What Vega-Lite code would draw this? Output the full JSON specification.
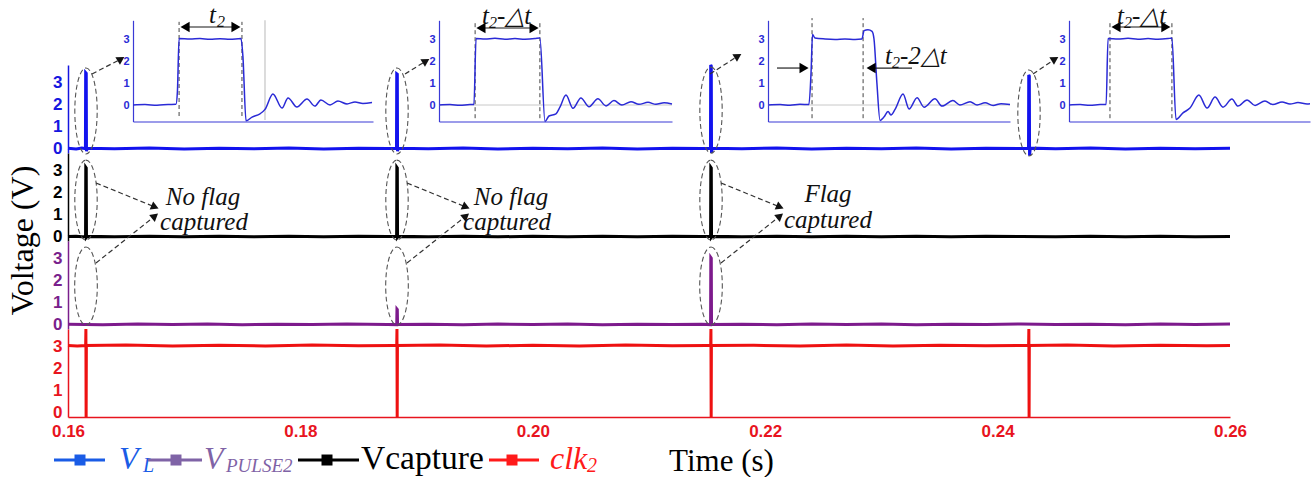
{
"$schema":"https://vega.github.io/schema/vega-lite/v6.json",
"width":1162,"height":417,
"autosize":{"type":"none"},
"padding":{"left":68,"top":0,"right":83,"bottom":60},
"background":"white",
"datasets":{
"traces":[
{"s":"VL","t":0.16,"v":0.02},{"s":"VL","t":0.1607,"v":-0.02},{"s":"VL","t":0.1612,"v":0.03},
{"s":"VL","t":0.1615,"v":0.0},{"s":"VL","t":0.16152,"v":3.45},{"s":"VL","t":0.16157,"v":3.42},{"s":"VL","t":0.16159,"v":-0.12},{"s":"VL","t":0.16165,"v":0.02},
{"s":"VL","t":0.164,"v":-0.01},{"s":"VL","t":0.167,"v":0.03},{"s":"VL","t":0.17,"v":-0.02},{"s":"VL","t":0.173,"v":0.02},{"s":"VL","t":0.176,"v":-0.01},{"s":"VL","t":0.179,"v":0.03},{"s":"VL","t":0.182,"v":-0.02},{"s":"VL","t":0.185,"v":0.02},{"s":"VL","t":0.1875,"v":0.0},
{"s":"VL","t":0.18827,"v":0.0},{"s":"VL","t":0.18829,"v":3.4},{"s":"VL","t":0.18834,"v":3.38},{"s":"VL","t":0.18836,"v":-0.12},{"s":"VL","t":0.18842,"v":0.02},
{"s":"VL","t":0.191,"v":-0.01},{"s":"VL","t":0.194,"v":0.03},{"s":"VL","t":0.197,"v":-0.02},{"s":"VL","t":0.2,"v":0.02},{"s":"VL","t":0.203,"v":-0.01},{"s":"VL","t":0.206,"v":0.03},{"s":"VL","t":0.209,"v":-0.02},{"s":"VL","t":0.212,"v":0.02},{"s":"VL","t":0.2145,"v":0.0},
{"s":"VL","t":0.21529,"v":0.0},{"s":"VL","t":0.21531,"v":3.8},{"s":"VL","t":0.21536,"v":3.75},{"s":"VL","t":0.21538,"v":-0.2},{"s":"VL","t":0.21544,"v":0.02},
{"s":"VL","t":0.218,"v":-0.01},{"s":"VL","t":0.221,"v":0.03},{"s":"VL","t":0.224,"v":-0.02},{"s":"VL","t":0.227,"v":0.02},{"s":"VL","t":0.23,"v":-0.01},{"s":"VL","t":0.233,"v":0.03},{"s":"VL","t":0.236,"v":-0.02},{"s":"VL","t":0.239,"v":0.02},{"s":"VL","t":0.242,"v":0.0},
{"s":"VL","t":0.24266,"v":0.0},{"s":"VL","t":0.24268,"v":3.35},{"s":"VL","t":0.24273,"v":3.3},{"s":"VL","t":0.24275,"v":-0.32},{"s":"VL","t":0.24281,"v":0.02},
{"s":"VL","t":0.245,"v":-0.01},{"s":"VL","t":0.248,"v":0.03},{"s":"VL","t":0.251,"v":-0.02},{"s":"VL","t":0.254,"v":0.02},{"s":"VL","t":0.257,"v":-0.01},{"s":"VL","t":0.26,"v":0.02},

{"s":"VC","t":0.16,"v":0.0},{"s":"VC","t":0.1607,"v":0.02},{"s":"VC","t":0.1612,"v":-0.01},
{"s":"VC","t":0.16151,"v":0.0},{"s":"VC","t":0.16153,"v":3.15},{"s":"VC","t":0.16157,"v":3.12},{"s":"VC","t":0.16159,"v":-0.03},{"s":"VC","t":0.16165,"v":0.01},
{"s":"VC","t":0.164,"v":-0.01},{"s":"VC","t":0.167,"v":0.02},{"s":"VC","t":0.17,"v":-0.01},{"s":"VC","t":0.173,"v":0.02},{"s":"VC","t":0.176,"v":-0.01},{"s":"VC","t":0.179,"v":0.02},{"s":"VC","t":0.182,"v":-0.01},{"s":"VC","t":0.185,"v":0.02},{"s":"VC","t":0.1875,"v":0.0},
{"s":"VC","t":0.18828,"v":0.0},{"s":"VC","t":0.1883,"v":3.15},{"s":"VC","t":0.18834,"v":3.12},{"s":"VC","t":0.18836,"v":-0.03},{"s":"VC","t":0.18842,"v":0.01},
{"s":"VC","t":0.191,"v":-0.01},{"s":"VC","t":0.194,"v":0.02},{"s":"VC","t":0.197,"v":-0.01},{"s":"VC","t":0.2,"v":0.02},{"s":"VC","t":0.203,"v":-0.01},{"s":"VC","t":0.206,"v":0.02},{"s":"VC","t":0.209,"v":-0.01},{"s":"VC","t":0.212,"v":0.02},{"s":"VC","t":0.2145,"v":0.0},
{"s":"VC","t":0.2153,"v":0.0},{"s":"VC","t":0.21532,"v":3.15},{"s":"VC","t":0.21536,"v":3.12},{"s":"VC","t":0.21538,"v":-0.03},{"s":"VC","t":0.21544,"v":0.01},
{"s":"VC","t":0.218,"v":-0.01},{"s":"VC","t":0.221,"v":0.02},{"s":"VC","t":0.224,"v":-0.01},{"s":"VC","t":0.227,"v":0.02},{"s":"VC","t":0.23,"v":-0.01},{"s":"VC","t":0.233,"v":0.02},{"s":"VC","t":0.236,"v":-0.01},{"s":"VC","t":0.239,"v":0.02},{"s":"VC","t":0.242,"v":0.0},{"s":"VC","t":0.245,"v":-0.01},{"s":"VC","t":0.248,"v":0.02},{"s":"VC","t":0.251,"v":-0.01},{"s":"VC","t":0.254,"v":0.02},{"s":"VC","t":0.257,"v":-0.01},{"s":"VC","t":0.26,"v":0.01},

{"s":"VP","t":0.16,"v":0.02},{"s":"VP","t":0.163,"v":-0.01},{"s":"VP","t":0.166,"v":0.03},{"s":"VP","t":0.169,"v":0.0},{"s":"VP","t":0.172,"v":0.03},{"s":"VP","t":0.175,"v":-0.01},{"s":"VP","t":0.178,"v":0.02},{"s":"VP","t":0.181,"v":0.0},{"s":"VP","t":0.184,"v":0.03},{"s":"VP","t":0.1875,"v":0.01},
{"s":"VP","t":0.18829,"v":0.0},{"s":"VP","t":0.18831,"v":0.7},{"s":"VP","t":0.18834,"v":0.68},{"s":"VP","t":0.18836,"v":0.0},
{"s":"VP","t":0.191,"v":0.02},{"s":"VP","t":0.194,"v":-0.01},{"s":"VP","t":0.197,"v":0.03},{"s":"VP","t":0.2,"v":0.0},{"s":"VP","t":0.203,"v":0.03},{"s":"VP","t":0.206,"v":-0.01},{"s":"VP","t":0.209,"v":0.02},{"s":"VP","t":0.212,"v":0.0},{"s":"VP","t":0.2145,"v":0.02},
{"s":"VP","t":0.2153,"v":0.0},{"s":"VP","t":0.21532,"v":3.05},{"s":"VP","t":0.21536,"v":3.02},{"s":"VP","t":0.21538,"v":0.0},
{"s":"VP","t":0.218,"v":0.02},{"s":"VP","t":0.221,"v":-0.01},{"s":"VP","t":0.224,"v":0.03},{"s":"VP","t":0.227,"v":0.0},{"s":"VP","t":0.23,"v":0.03},{"s":"VP","t":0.233,"v":-0.01},{"s":"VP","t":0.236,"v":0.02},{"s":"VP","t":0.239,"v":0.0},{"s":"VP","t":0.242,"v":0.03},{"s":"VP","t":0.245,"v":0.0},{"s":"VP","t":0.248,"v":0.02},{"s":"VP","t":0.251,"v":-0.01},{"s":"VP","t":0.254,"v":0.03},{"s":"VP","t":0.257,"v":0.01},{"s":"VP","t":0.26,"v":0.03},

{"s":"CK","t":0.16,"v":3.05},{"s":"CK","t":0.1608,"v":3.03},{"s":"CK","t":0.16152,"v":3.05},{"s":"CK","t":0.16154,"v":3.8},{"s":"CK","t":0.16156,"v":-0.2},{"s":"CK","t":0.16158,"v":3.05},
{"s":"CK","t":0.165,"v":3.07},{"s":"CK","t":0.169,"v":3.03},{"s":"CK","t":0.173,"v":3.06},{"s":"CK","t":0.177,"v":3.03},{"s":"CK","t":0.181,"v":3.07},{"s":"CK","t":0.185,"v":3.04},{"s":"CK","t":0.188,"v":3.05},
{"s":"CK","t":0.18829,"v":3.05},{"s":"CK","t":0.18831,"v":3.8},{"s":"CK","t":0.18833,"v":-0.2},{"s":"CK","t":0.18835,"v":3.05},
{"s":"CK","t":0.192,"v":3.07},{"s":"CK","t":0.196,"v":3.03},{"s":"CK","t":0.2,"v":3.06},{"s":"CK","t":0.204,"v":3.03},{"s":"CK","t":0.208,"v":3.07},{"s":"CK","t":0.212,"v":3.04},{"s":"CK","t":0.215,"v":3.05},
{"s":"CK","t":0.21531,"v":3.05},{"s":"CK","t":0.21533,"v":3.8},{"s":"CK","t":0.21535,"v":-0.2},{"s":"CK","t":0.21537,"v":3.05},
{"s":"CK","t":0.219,"v":3.06},{"s":"CK","t":0.223,"v":3.03},{"s":"CK","t":0.227,"v":3.07},{"s":"CK","t":0.231,"v":3.03},{"s":"CK","t":0.235,"v":3.06},{"s":"CK","t":0.239,"v":3.04},{"s":"CK","t":0.2426,"v":3.05},
{"s":"CK","t":0.24267,"v":3.05},{"s":"CK","t":0.24269,"v":3.8},{"s":"CK","t":0.24271,"v":-0.2},{"s":"CK","t":0.24273,"v":3.05},
{"s":"CK","t":0.246,"v":3.07},{"s":"CK","t":0.25,"v":3.03},{"s":"CK","t":0.254,"v":3.06},{"s":"CK","t":0.258,"v":3.04},{"s":"CK","t":0.26,"v":3.05}
],
"ellipses":[
{"s":"VL","t":0.161549,"v":1.71},{"s":"VL","t":0.188313,"v":1.71},{"s":"VL","t":0.215336,"v":1.75},{"s":"VL","t":0.242702,"v":1.62},
{"s":"VC","t":0.161549,"v":1.66},{"s":"VC","t":0.188313,"v":1.66},{"s":"VC","t":0.215336,"v":1.66},
{"s":"VP","t":0.161549,"v":1.755},{"s":"VP","t":0.188313,"v":1.755},{"s":"VP","t":0.215336,"v":1.755}
],
"arrows":[
{"s":"VL","t1":0.162065,"v1":3.391,"t2":0.164561,"v2":4.073},
{"s":"VL","t1":0.189002,"v1":3.391,"t2":0.190809,"v2":3.982},
{"s":"VL","t1":0.21525,"v1":3.391,"t2":0.21766,"v2":4.209},
{"s":"VL","t1":0.243046,"v1":3.391,"t2":0.24494,"v2":4.073},
{"s":"VC","t1":0.16241,"v1":2.436,"t2":0.167487,"v2":1.345},
{"s":"VC","t1":0.189174,"v1":2.436,"t2":0.194251,"v2":1.345},
{"s":"VC","t1":0.216196,"v1":2.436,"t2":0.221274,"v2":1.345},
{"s":"VP","t1":0.16241,"v1":2.8,"t2":0.167487,"v2":4.936},
{"s":"VP","t1":0.189174,"v1":2.8,"t2":0.194251,"v2":4.936},
{"s":"VP","t1":0.216196,"v1":2.8,"t2":0.221274,"v2":4.936}
],
"notes":[
{"t":0.171618,"v":1.436,"label":"No flag"},{"t":0.171704,"v":0.3,"label":"captured"},
{"t":0.198124,"v":1.436,"label":"No flag"},{"t":0.19778,"v":0.3,"label":"captured"},
{"t":0.225404,"v":1.57,"label":"Flag"},{"t":0.225404,"v":0.39,"label":"captured"}
],
"ins":[
{"k":1,"u":0,"v":0.0},{"k":1,"u":5,"v":0.02},{"k":1,"u":10,"v":-0.01},{"k":1,"u":14.6,"v":0.02},{"k":1,"u":17.9,"v":0.03},{"k":1,"u":18.5,"v":0.6},{"k":1,"u":19.2,"v":3.02},{"k":1,"u":23.75,"v":3.0},{"k":1,"u":27.9,"v":3.02},{"k":1,"u":32.1,"v":2.99},{"k":1,"u":36.25,"v":3.01},{"k":1,"u":40.4,"v":2.99},{"k":1,"u":45,"v":3.02},{"k":1,"u":45.8,"v":2.2},{"k":1,"u":47.1,"v":-0.72},{"k":1,"u":49.6,"v":-0.55},{"k":1,"u":52.9,"v":-0.4},{"k":1,"u":55,"v":-0.2},{"k":1,"u":58.3,"v":0.5},{"k":1,"u":62.1,"v":-0.14},{"k":1,"u":64.6,"v":0.32},{"k":1,"u":68.3,"v":-0.09},{"k":1,"u":72.5,"v":0.27},{"k":1,"u":75.8,"v":-0.05},{"k":1,"u":78.3,"v":0.23},{"k":1,"u":82.1,"v":0.0},{"k":1,"u":85.4,"v":0.18},{"k":1,"u":89.2,"v":0.05},{"k":1,"u":92.5,"v":0.14},{"k":1,"u":95.8,"v":0.07},{"k":1,"u":99.6,"v":0.11},
{"k":2,"u":0,"v":0.0},{"k":2,"u":4.7,"v":0.02},{"k":2,"u":9.0,"v":-0.01},{"k":2,"u":13.3,"v":0.02},{"k":2,"u":15.0,"v":0.02},{"k":2,"u":15.9,"v":3.02},{"k":2,"u":19.7,"v":3.0},{"k":2,"u":24.0,"v":3.03},{"k":2,"u":28.3,"v":2.99},{"k":2,"u":32.6,"v":3.02},{"k":2,"u":36.9,"v":2.99},{"k":2,"u":41.2,"v":3.02},{"k":2,"u":43.3,"v":3.05},{"k":2,"u":45.5,"v":-0.75},{"k":2,"u":47.2,"v":-0.5},{"k":2,"u":50.2,"v":-0.4},{"k":2,"u":51.9,"v":-0.1},{"k":2,"u":54.5,"v":0.45},{"k":2,"u":57.5,"v":-0.15},{"k":2,"u":60.9,"v":0.32},{"k":2,"u":64.4,"v":-0.08},{"k":2,"u":68.2,"v":0.28},{"k":2,"u":71.7,"v":-0.04},{"k":2,"u":75.1,"v":0.2},{"k":2,"u":78.5,"v":0.0},{"k":2,"u":82.4,"v":0.15},{"k":2,"u":85.8,"v":0.03},{"k":2,"u":89.7,"v":0.12},{"k":2,"u":93.1,"v":0.03},{"k":2,"u":96.6,"v":0.1},{"k":2,"u":100,"v":0.05},
{"k":3,"u":0,"v":0.0},{"k":3,"u":5.0,"v":0.02},{"k":3,"u":9.1,"v":-0.01},{"k":3,"u":13.2,"v":0.03},{"k":3,"u":16.9,"v":0.02},{"k":3,"u":17.8,"v":1.5},{"k":3,"u":18.4,"v":3.2},{"k":3,"u":19.4,"v":3.05},{"k":3,"u":23.6,"v":3.0},{"k":3,"u":27.7,"v":2.98},{"k":3,"u":31.8,"v":3.0},{"k":3,"u":36.0,"v":2.98},{"k":3,"u":38.8,"v":3.0},{"k":3,"u":39.7,"v":3.38},{"k":3,"u":41.3,"v":3.42},{"k":3,"u":43.0,"v":3.35},{"k":3,"u":43.8,"v":3.0},{"k":3,"u":45.0,"v":1.0},{"k":3,"u":46.3,"v":-0.7},{"k":3,"u":47.9,"v":-0.55},{"k":3,"u":49.6,"v":-0.3},{"k":3,"u":50.8,"v":-0.45},{"k":3,"u":52.5,"v":-0.2},{"k":3,"u":55.8,"v":0.5},{"k":3,"u":58.3,"v":-0.18},{"k":3,"u":61.6,"v":0.33},{"k":3,"u":64.5,"v":-0.1},{"k":3,"u":69.0,"v":0.28},{"k":3,"u":71.9,"v":-0.05},{"k":3,"u":76.4,"v":0.2},{"k":3,"u":79.3,"v":0.0},{"k":3,"u":83.5,"v":0.15},{"k":3,"u":86.4,"v":0.0},{"k":3,"u":89.7,"v":0.1},{"k":3,"u":93.0,"v":-0.02},{"k":3,"u":96.3,"v":0.06},{"k":3,"u":100,"v":0.02},
{"k":4,"u":0,"v":0.0},{"k":4,"u":4.6,"v":0.02},{"k":4,"u":8.7,"v":-0.01},{"k":4,"u":12.9,"v":0.02},{"k":4,"u":15.4,"v":0.02},{"k":4,"u":16.2,"v":3.02},{"k":4,"u":20.3,"v":3.0},{"k":4,"u":24.5,"v":3.03},{"k":4,"u":28.6,"v":2.99},{"k":4,"u":32.8,"v":3.02},{"k":4,"u":36.9,"v":2.99},{"k":4,"u":41.1,"v":3.02},{"k":4,"u":42.7,"v":3.04},{"k":4,"u":44.4,"v":-0.66},{"k":4,"u":47.3,"v":-0.36},{"k":4,"u":50.2,"v":-0.14},{"k":4,"u":53.9,"v":0.45},{"k":4,"u":57.3,"v":-0.14},{"k":4,"u":60.6,"v":0.36},{"k":4,"u":63.9,"v":-0.1},{"k":4,"u":67.6,"v":0.27},{"k":4,"u":70.1,"v":-0.05},{"k":4,"u":73.9,"v":0.23},{"k":4,"u":77.2,"v":-0.02},{"k":4,"u":81.3,"v":0.18},{"k":4,"u":84.6,"v":0.02},{"k":4,"u":88.4,"v":0.14},{"k":4,"u":91.7,"v":0.04},{"k":4,"u":95.0,"v":0.11},{"k":4,"u":98.8,"v":0.05},{"k":4,"u":100,"v":0.06}
],
"idash":[{"k":1,"u":19.2},{"k":1,"u":45.4},{"k":2,"u":15.5},{"k":2,"u":43.3},{"k":3,"u":18.2},{"k":3,"u":39.3},{"k":4,"u":17.0},{"k":4,"u":42.7}],
"ishaft":[{"k":1,"u1":21.7,"u2":42.9,"v":3.545},{"k":2,"u1":18.0,"u2":40.8,"v":3.5},{"k":3,"u1":3.7,"u2":14.9,"v":1.68},{"k":3,"u1":59.5,"u2":42.6,"v":1.68},{"k":4,"u1":19.5,"u2":40.2,"v":3.545}],
"ihead":[{"k":1,"u":21.7,"v":3.545,"d":"l"},{"k":1,"u":42.9,"v":3.545,"d":"r"},{"k":2,"u":18.0,"v":3.5,"d":"l"},{"k":2,"u":40.8,"v":3.5,"d":"r"},{"k":3,"u":14.9,"v":1.68,"d":"r"},{"k":3,"u":42.6,"v":1.68,"d":"l"},{"k":4,"u":19.5,"v":3.545,"d":"l"},{"k":4,"u":40.2,"v":3.545,"d":"r"}],
"ilabel":[{"k":1,"u":31.7,"v":3.73,"text":"t"},{"k":2,"u":18.5,"v":3.68,"text":"t"},{"k":2,"u":24.9,"v":3.68,"text":"-△t"},{"k":3,"u":48.3,"v":1.86,"text":"t"},{"k":3,"u":54.5,"v":1.86,"text":"-2△t"},{"k":4,"u":19.9,"v":3.68,"text":"t"},{"k":4,"u":26.1,"v":3.68,"text":"-△t"}],
"isub":[{"k":1,"u":35,"v":3.55,"text":"2"},{"k":2,"u":21.5,"v":3.5,"text":"2"},{"k":3,"u":51.2,"v":1.68,"text":"2"},{"k":4,"u":22.8,"v":3.5,"text":"2"}]
},
"layer":[
{
"layer":[
{"layer":[
{"data":{"name":"traces"},"transform":[{"filter":"datum.s==='VL'"}],"mark":{"type":"line","color":"#1212ee","strokeWidth":3},
"encoding":{"x":{"field":"t","type":"quantitative","scale":{"domain":[0.16,0.26],"nice":false,"zero":false}},
"y":{"field":"v","type":"quantitative","scale":{"domain":[-0.2,3.8],"range":[153,65],"nice":false,"zero":false},"axis":{"orient":"left","values":[0,1,2,3],"format":"d","title":null,"labelColor":"#1515e0","domainColor":"#1515e0","domainWidth":1.5,"labelFontSize":17,"labelPadding":6}}}},
{"data":{"name":"ellipses"},"transform":[{"filter":"datum.s==='VL'"}],"mark":{"type":"point","shape":"M0,-1A0.26,1,0,1,1,0,1A0.26,1,0,1,1,0,-1Z","size":7400,"filled":false,"stroke":"#555","strokeWidth":1.1,"strokeDash":[5,3],"opacity":1},
"encoding":{"x":{"field":"t","type":"quantitative"},"y":{"field":"v","type":"quantitative"}}},
{"data":{"name":"arrows"},"transform":[{"filter":"datum.s==='VL'"}],"mark":{"type":"rule","color":"#333","strokeWidth":1.2,"strokeDash":[5,3]},
"encoding":{"x":{"field":"t1","type":"quantitative"},"x2":{"field":"t2"},"y":{"field":"v1","type":"quantitative"},"y2":{"field":"v2"}}},
{"data":{"name":"arrows"},"transform":[{"filter":"datum.s==='VL'"}],"mark":{"type":"point","shape":"triangle-right","angle":-31,"filled":true,"color":"#111","size":80,"opacity":1},
"encoding":{"x":{"field":"t2","type":"quantitative"},"y":{"field":"v2","type":"quantitative"}}}
]},
{"layer":[
{"data":{"name":"traces"},"transform":[{"filter":"datum.s==='VC'"}],"mark":{"type":"line","color":"#000","strokeWidth":3},
"encoding":{"x":{"field":"t","type":"quantitative","scale":{"domain":[0.16,0.26],"nice":false,"zero":false}},
"y":{"field":"v","type":"quantitative","scale":{"domain":[-0.2,3.8],"range":[241,153],"nice":false,"zero":false},"axis":{"orient":"left","values":[0,1,2,3],"format":"d","labelColor":"#000","domainColor":"#000","domainWidth":1.5,"labelFontSize":17,"labelPadding":6,"title":"Voltage (V)","titleFontSize":32,"titleX":-46,"titleY":240,"titleAlign":"center","titleBaseline":"middle","titleAngle":-90}}}},
{"data":{"name":"ellipses"},"transform":[{"filter":"datum.s==='VC'"}],"mark":{"type":"point","shape":"M0,-1A0.28,1,0,1,1,0,1A0.28,1,0,1,1,0,-1Z","size":6400,"filled":false,"stroke":"#555","strokeWidth":1.1,"strokeDash":[5,3],"opacity":1},
"encoding":{"x":{"field":"t","type":"quantitative"},"y":{"field":"v","type":"quantitative"}}},
{"data":{"name":"arrows"},"transform":[{"filter":"datum.s==='VC'"}],"mark":{"type":"rule","color":"#333","strokeWidth":1.2,"strokeDash":[5,3]},
"encoding":{"x":{"field":"t1","type":"quantitative"},"x2":{"field":"t2"},"y":{"field":"v1","type":"quantitative"},"y2":{"field":"v2"}}},
{"data":{"name":"arrows"},"transform":[{"filter":"datum.s==='VC'"}],"mark":{"type":"point","shape":"triangle-right","angle":23,"filled":true,"color":"#111","size":80,"opacity":1},
"encoding":{"x":{"field":"t2","type":"quantitative"},"y":{"field":"v2","type":"quantitative"}}},
{"data":{"name":"notes"},"mark":{"type":"text","font":"Liberation Serif","fontStyle":"italic","fontSize":25,"color":"#111","align":"center","baseline":"alphabetic"},
"encoding":{"x":{"field":"t","type":"quantitative"},"y":{"field":"v","type":"quantitative"},"text":{"field":"label"}}}
]},
{"layer":[
{"data":{"name":"traces"},"transform":[{"filter":"datum.s==='VP'"}],"mark":{"type":"line","color":"#7d1a8c","strokeWidth":3},
"encoding":{"x":{"field":"t","type":"quantitative","scale":{"domain":[0.16,0.26],"nice":false,"zero":false}},
"y":{"field":"v","type":"quantitative","scale":{"domain":[-0.2,3.8],"range":[329,241],"nice":false,"zero":false},"axis":{"orient":"left","values":[0,1,2,3],"format":"d","title":null,"labelColor":"#7a1f8c","domainColor":"#7a1f8c","domainWidth":1.5,"labelFontSize":17,"labelPadding":6}}}},
{"data":{"name":"ellipses"},"transform":[{"filter":"datum.s==='VP'"}],"mark":{"type":"point","shape":"M0,-1A0.29,1,0,1,1,0,1A0.29,1,0,1,1,0,-1Z","size":6084,"filled":false,"stroke":"#555","strokeWidth":1.1,"strokeDash":[5,3],"opacity":1},
"encoding":{"x":{"field":"t","type":"quantitative"},"y":{"field":"v","type":"quantitative"}}},
{"data":{"name":"arrows"},"transform":[{"filter":"datum.s==='VP'"}],"mark":{"type":"rule","color":"#333","strokeWidth":1.2,"strokeDash":[5,3]},
"encoding":{"x":{"field":"t1","type":"quantitative"},"x2":{"field":"t2"},"y":{"field":"v1","type":"quantitative"},"y2":{"field":"v2"}}},
{"data":{"name":"arrows"},"transform":[{"filter":"datum.s==='VP'"}],"mark":{"type":"point","shape":"triangle-right","angle":-39,"filled":true,"color":"#111","size":80,"opacity":1},
"encoding":{"x":{"field":"t2","type":"quantitative"},"y":{"field":"v2","type":"quantitative"}}}
]},
{"layer":[
{"data":{"name":"traces"},"transform":[{"filter":"datum.s==='CK'"}],"mark":{"type":"line","color":"#ee1111","strokeWidth":3},
"encoding":{"x":{"field":"t","type":"quantitative","scale":{"domain":[0.16,0.26],"nice":false,"zero":false},"axis":{"orient":"bottom","values":[0.16,0.18,0.2,0.22,0.24,0.26],"format":".2f","labelColor":"#e8141e","domainColor":"#e8141e","domainWidth":1.5,"labelFontSize":17,"labelPadding":6,"labelFlush":false,"title":"Time (s)","titleFontSize":31,"titleX":653,"titleY":44,"titleAlign":"center","titleBaseline":"middle"}},
"y":{"field":"v","type":"quantitative","scale":{"domain":[-0.2,3.8],"range":[417,329],"nice":false,"zero":false},"axis":{"orient":"left","values":[0,1,2,3],"format":"d","title":null,"labelColor":"#e8141e","domainColor":"#e8141e","domainWidth":1.5,"labelFontSize":17,"labelPadding":6}}}},
{"data":{"values":[{}]},"mark":{"type":"rule","color":"#1a5ce6","strokeWidth":3},"encoding":{"x":{"datum":0.158795,"type":"quantitative"},"x2":{"datum":0.163184},"y":{"datum":-2.155,"type":"quantitative"}}},
{"data":{"values":[{}]},"mark":{"type":"point","shape":"square","filled":true,"opacity":1,"size":121,"color":"#1a5ce6"},"encoding":{"x":{"datum":0.161033,"type":"quantitative"},"y":{"datum":-2.155,"type":"quantitative"}}},
{"data":{"values":[{}]},"mark":{"type":"text","text":"V","font":"Liberation Serif","fontStyle":"italic","fontSize":32,"color":"#1a5ce6","align":"left","baseline":"alphabetic"},"encoding":{"x":{"datum":0.164389,"type":"quantitative"},"y":{"datum":-2.564,"type":"quantitative"}}},
{"data":{"values":[{}]},"mark":{"type":"text","text":"L","font":"Liberation Serif","fontStyle":"italic","fontSize":20,"color":"#1a5ce6","align":"left","baseline":"alphabetic"},"encoding":{"x":{"datum":0.166455,"type":"quantitative"},"y":{"datum":-2.7,"type":"quantitative"}}},
{"data":{"values":[{}]},"mark":{"type":"rule","color":"#7f63a6","strokeWidth":3},"encoding":{"x":{"datum":0.166885,"type":"quantitative"},"x2":{"datum":0.171532},"y":{"datum":-2.155,"type":"quantitative"}}},
{"data":{"values":[{}]},"mark":{"type":"point","shape":"square","filled":true,"opacity":1,"size":121,"color":"#7f63a6"},"encoding":{"x":{"datum":0.169294,"type":"quantitative"},"y":{"datum":-2.155,"type":"quantitative"}}},
{"data":{"values":[{}]},"mark":{"type":"text","text":"V","font":"Liberation Serif","fontStyle":"italic","fontSize":32,"color":"#7f63a6","align":"left","baseline":"alphabetic"},"encoding":{"x":{"datum":0.171704,"type":"quantitative"},"y":{"datum":-2.564,"type":"quantitative"}}},
{"data":{"values":[{}]},"mark":{"type":"text","text":"PULSE2","font":"Liberation Serif","fontStyle":"italic","fontSize":19,"color":"#7f63a6","align":"left","baseline":"alphabetic"},"encoding":{"x":{"datum":0.173597,"type":"quantitative"},"y":{"datum":-2.7,"type":"quantitative"}}},
{"data":{"values":[{}]},"mark":{"type":"rule","color":"#000","strokeWidth":3},"encoding":{"x":{"datum":0.179793,"type":"quantitative"},"x2":{"datum":0.185043},"y":{"datum":-2.155,"type":"quantitative"}}},
{"data":{"values":[{}]},"mark":{"type":"point","shape":"square","filled":true,"opacity":1,"size":121,"color":"#000"},"encoding":{"x":{"datum":0.182289,"type":"quantitative"},"y":{"datum":-2.155,"type":"quantitative"}}},
{"data":{"values":[{}]},"mark":{"type":"text","text":"Vcapture","font":"Liberation Serif","fontSize":33.5,"color":"#000","align":"left","baseline":"alphabetic"},"encoding":{"x":{"datum":0.185215,"type":"quantitative"},"y":{"datum":-2.564,"type":"quantitative"}}},
{"data":{"values":[{}]},"mark":{"type":"rule","color":"#ff1a1a","strokeWidth":3},"encoding":{"x":{"datum":0.196231,"type":"quantitative"},"x2":{"datum":0.200534},"y":{"datum":-2.155,"type":"quantitative"}}},
{"data":{"values":[{}]},"mark":{"type":"point","shape":"square","filled":true,"opacity":1,"size":121,"color":"#ff1a1a"},"encoding":{"x":{"datum":0.198210,"type":"quantitative"},"y":{"datum":-2.155,"type":"quantitative"}}},
{"data":{"values":[{}]},"mark":{"type":"text","text":"clk","font":"Liberation Serif","fontStyle":"italic","fontSize":32,"color":"#ff1a1a","align":"left","baseline":"alphabetic"},"encoding":{"x":{"datum":0.20148,"type":"quantitative"},"y":{"datum":-2.564,"type":"quantitative"}}},
{"data":{"values":[{}]},"mark":{"type":"text","text":"2","font":"Liberation Serif","fontStyle":"italic","fontSize":20,"color":"#ff1a1a","align":"left","baseline":"alphabetic"},"encoding":{"x":{"datum":0.204664,"type":"quantitative"},"y":{"datum":-2.7,"type":"quantitative"}}}
]}
],
"resolve":{"scale":{"y":"independent"},"axis":{"y":"independent"}}
},

{"layer":[
{"data":{"values":[{}]},"mark":{"type":"rule","color":"#c4c4c4","strokeWidth":1.2},"encoding":{"x":{"datum":55,"type":"quantitative","scale":{"domain":[0,100],"range":[65,305],"nice":false,"zero":false}},"y":{"datum":-0.68,"type":"quantitative","scale":{"domain":[-0.75,3.85],"range":[121.5,20.3],"nice":false,"zero":false}},"y2":{"datum":3.85}}},
{"data":{"name":"idash"},"transform":[{"filter":"datum.k===1"}],"mark":{"type":"rule","color":"#444","strokeWidth":1,"strokeDash":[4,3]},"encoding":{"x":{"field":"u","type":"quantitative"},"y":{"datum":-0.5,"type":"quantitative"},"y2":{"datum":3.78}}},
{"data":{"name":"ins"},"transform":[{"filter":"datum.k===1"}],"mark":{"type":"line","color":"#2a2ad6","strokeWidth":1.5,"interpolate":"monotone"},
"encoding":{"x":{"field":"u","type":"quantitative","scale":{"domain":[0,100],"range":[65,305],"nice":false,"zero":false},"axis":{"orient":"bottom","offset":-295.5,"labels":false,"ticks":false,"title":null,"domainColor":"#3a3ad6","domainWidth":1.2}},
"y":{"field":"v","type":"quantitative","scale":{"domain":[-0.75,3.85],"range":[121.5,20.3],"nice":false,"zero":false},"axis":{"orient":"left","offset":-65,"values":[0,1,2,3],"format":"d","title":null,"labelColor":"#2a2ad6","labelFontSize":11,"labelPadding":4,"domainColor":"#3a3ad6","domainWidth":1.2}}}},
{"data":{"name":"ishaft"},"transform":[{"filter":"datum.k===1"}],"mark":{"type":"rule","color":"#8a8a8a","strokeWidth":2},"encoding":{"x":{"field":"u1","type":"quantitative"},"x2":{"field":"u2"},"y":{"field":"v","type":"quantitative"}}},
{"data":{"name":"ihead"},"transform":[{"filter":"datum.k===1"}],"mark":{"type":"point","filled":true,"opacity":1,"color":"#000","size":110},"encoding":{"x":{"field":"u","type":"quantitative"},"y":{"field":"v","type":"quantitative"},"shape":{"field":"d","type":"nominal","scale":{"domain":["l","r"],"range":["triangle-left","triangle-right"]},"legend":null}}},
{"data":{"name":"ilabel"},"transform":[{"filter":"datum.k===1"}],"mark":{"type":"text","font":"Liberation Serif","fontStyle":"italic","fontSize":25,"color":"#111","align":"left","baseline":"alphabetic"},"encoding":{"x":{"field":"u","type":"quantitative"},"y":{"field":"v","type":"quantitative"},"text":{"field":"text"}}},
{"data":{"name":"isub"},"transform":[{"filter":"datum.k===1"}],"mark":{"type":"text","font":"Liberation Serif","fontStyle":"italic","fontSize":16,"color":"#111","align":"left","baseline":"alphabetic"},"encoding":{"x":{"field":"u","type":"quantitative"},"y":{"field":"v","type":"quantitative"},"text":{"field":"text"}}}
]},

{"layer":[
{"data":{"values":[{}]},"mark":{"type":"rule","color":"#c8c8c8","strokeWidth":1},"encoding":{"x":{"datum":0,"type":"quantitative","scale":{"domain":[0,100],"range":[371,604],"nice":false,"zero":false}},"x2":{"datum":100},"y":{"datum":0,"type":"quantitative","scale":{"domain":[-0.75,3.85],"range":[121.5,20.3],"nice":false,"zero":false}}}},
{"data":{"name":"idash"},"transform":[{"filter":"datum.k===2"}],"mark":{"type":"rule","color":"#444","strokeWidth":1,"strokeDash":[4,3]},"encoding":{"x":{"field":"u","type":"quantitative"},"y":{"datum":-0.6,"type":"quantitative"},"y2":{"datum":3.78}}},
{"data":{"name":"ins"},"transform":[{"filter":"datum.k===2"}],"mark":{"type":"line","color":"#2a2ad6","strokeWidth":1.5,"interpolate":"monotone"},
"encoding":{"x":{"field":"u","type":"quantitative","scale":{"domain":[0,100],"range":[371,604],"nice":false,"zero":false},"axis":{"orient":"bottom","offset":-295.5,"labels":false,"ticks":false,"title":null,"domainColor":"#3a3ad6","domainWidth":1.2}},
"y":{"field":"v","type":"quantitative","scale":{"domain":[-0.75,3.85],"range":[121.5,20.3],"nice":false,"zero":false},"axis":{"orient":"left","offset":-371,"values":[0,1,2,3],"format":"d","title":null,"labelColor":"#2a2ad6","labelFontSize":11,"labelPadding":4,"domainColor":"#3a3ad6","domainWidth":1.2}}}},
{"data":{"name":"ishaft"},"transform":[{"filter":"datum.k===2"}],"mark":{"type":"rule","color":"#8a8a8a","strokeWidth":2},"encoding":{"x":{"field":"u1","type":"quantitative"},"x2":{"field":"u2"},"y":{"field":"v","type":"quantitative"}}},
{"data":{"name":"ihead"},"transform":[{"filter":"datum.k===2"}],"mark":{"type":"point","filled":true,"opacity":1,"color":"#000","size":110},"encoding":{"x":{"field":"u","type":"quantitative"},"y":{"field":"v","type":"quantitative"},"shape":{"field":"d","type":"nominal","scale":{"domain":["l","r"],"range":["triangle-left","triangle-right"]},"legend":null}}},
{"data":{"name":"ilabel"},"transform":[{"filter":"datum.k===2"}],"mark":{"type":"text","font":"Liberation Serif","fontStyle":"italic","fontSize":25,"color":"#111","align":"left","baseline":"alphabetic"},"encoding":{"x":{"field":"u","type":"quantitative"},"y":{"field":"v","type":"quantitative"},"text":{"field":"text"}}},
{"data":{"name":"isub"},"transform":[{"filter":"datum.k===2"}],"mark":{"type":"text","font":"Liberation Serif","fontStyle":"italic","fontSize":16,"color":"#111","align":"left","baseline":"alphabetic"},"encoding":{"x":{"field":"u","type":"quantitative"},"y":{"field":"v","type":"quantitative"},"text":{"field":"text"}}}
]},

{"layer":[
{"data":{"values":[{}]},"mark":{"type":"rule","color":"#c8c8c8","strokeWidth":1},"encoding":{"x":{"datum":0,"type":"quantitative","scale":{"domain":[0,100],"range":[700,942],"nice":false,"zero":false}},"x2":{"datum":100},"y":{"datum":0,"type":"quantitative","scale":{"domain":[-0.75,3.85],"range":[121.5,20.3],"nice":false,"zero":false}}}},
{"data":{"name":"idash"},"transform":[{"filter":"datum.k===3"}],"mark":{"type":"rule","color":"#444","strokeWidth":1,"strokeDash":[4,3]},"encoding":{"x":{"field":"u","type":"quantitative"},"y":{"datum":-0.6,"type":"quantitative"},"y2":{"datum":3.95}}},
{"data":{"name":"ins"},"transform":[{"filter":"datum.k===3"}],"mark":{"type":"line","color":"#2a2ad6","strokeWidth":1.5,"interpolate":"monotone"},
"encoding":{"x":{"field":"u","type":"quantitative","scale":{"domain":[0,100],"range":[700,942],"nice":false,"zero":false},"axis":{"orient":"bottom","offset":-295.5,"labels":false,"ticks":false,"title":null,"domainColor":"#3a3ad6","domainWidth":1.2}},
"y":{"field":"v","type":"quantitative","scale":{"domain":[-0.75,3.85],"range":[121.5,20.3],"nice":false,"zero":false},"axis":{"orient":"left","offset":-700,"values":[0,1,2,3],"format":"d","title":null,"labelColor":"#2a2ad6","labelFontSize":11,"labelPadding":4,"domainColor":"#3a3ad6","domainWidth":1.2}}}},
{"data":{"name":"ishaft"},"transform":[{"filter":"datum.k===3"}],"mark":{"type":"rule","color":"#222","strokeWidth":1.2},"encoding":{"x":{"field":"u1","type":"quantitative"},"x2":{"field":"u2"},"y":{"field":"v","type":"quantitative"}}},
{"data":{"name":"ihead"},"transform":[{"filter":"datum.k===3"}],"mark":{"type":"point","filled":true,"opacity":1,"color":"#000","size":110},"encoding":{"x":{"field":"u","type":"quantitative"},"y":{"field":"v","type":"quantitative"},"shape":{"field":"d","type":"nominal","scale":{"domain":["l","r"],"range":["triangle-left","triangle-right"]},"legend":null}}},
{"data":{"name":"ilabel"},"transform":[{"filter":"datum.k===3"}],"mark":{"type":"text","font":"Liberation Serif","fontStyle":"italic","fontSize":25,"color":"#111","align":"left","baseline":"alphabetic"},"encoding":{"x":{"field":"u","type":"quantitative"},"y":{"field":"v","type":"quantitative"},"text":{"field":"text"}}},
{"data":{"name":"isub"},"transform":[{"filter":"datum.k===3"}],"mark":{"type":"text","font":"Liberation Serif","fontStyle":"italic","fontSize":16,"color":"#111","align":"left","baseline":"alphabetic"},"encoding":{"x":{"field":"u","type":"quantitative"},"y":{"field":"v","type":"quantitative"},"text":{"field":"text"}}}
]},

{"layer":[
{"data":{"name":"idash"},"transform":[{"filter":"datum.k===4"}],"mark":{"type":"rule","color":"#444","strokeWidth":1,"strokeDash":[4,3]},"encoding":{"x":{"field":"u","type":"quantitative","scale":{"domain":[0,100],"range":[1001,1242],"nice":false,"zero":false}},"y":{"datum":-0.6,"type":"quantitative","scale":{"domain":[-0.75,3.85],"range":[121.5,20.3],"nice":false,"zero":false}},"y2":{"datum":3.85}}},
{"data":{"name":"ins"},"transform":[{"filter":"datum.k===4"}],"mark":{"type":"line","color":"#2a2ad6","strokeWidth":1.5,"interpolate":"monotone"},
"encoding":{"x":{"field":"u","type":"quantitative","scale":{"domain":[0,100],"range":[1001,1242],"nice":false,"zero":false},"axis":{"orient":"bottom","offset":-295.5,"labels":false,"ticks":false,"title":null,"domainColor":"#3a3ad6","domainWidth":1.2}},
"y":{"field":"v","type":"quantitative","scale":{"domain":[-0.75,3.85],"range":[121.5,20.3],"nice":false,"zero":false},"axis":{"orient":"left","offset":-1001,"values":[0,1,2,3],"format":"d","title":null,"labelColor":"#2a2ad6","labelFontSize":11,"labelPadding":4,"domainColor":"#3a3ad6","domainWidth":1.2}}}},
{"data":{"name":"ishaft"},"transform":[{"filter":"datum.k===4"}],"mark":{"type":"rule","color":"#8a8a8a","strokeWidth":2},"encoding":{"x":{"field":"u1","type":"quantitative"},"x2":{"field":"u2"},"y":{"field":"v","type":"quantitative"}}},
{"data":{"name":"ihead"},"transform":[{"filter":"datum.k===4"}],"mark":{"type":"point","filled":true,"opacity":1,"color":"#000","size":110},"encoding":{"x":{"field":"u","type":"quantitative"},"y":{"field":"v","type":"quantitative"},"shape":{"field":"d","type":"nominal","scale":{"domain":["l","r"],"range":["triangle-left","triangle-right"]},"legend":null}}},
{"data":{"name":"ilabel"},"transform":[{"filter":"datum.k===4"}],"mark":{"type":"text","font":"Liberation Serif","fontStyle":"italic","fontSize":25,"color":"#111","align":"left","baseline":"alphabetic"},"encoding":{"x":{"field":"u","type":"quantitative"},"y":{"field":"v","type":"quantitative"},"text":{"field":"text"}}},
{"data":{"name":"isub"},"transform":[{"filter":"datum.k===4"}],"mark":{"type":"text","font":"Liberation Serif","fontStyle":"italic","fontSize":16,"color":"#111","align":"left","baseline":"alphabetic"},"encoding":{"x":{"field":"u","type":"quantitative"},"y":{"field":"v","type":"quantitative"},"text":{"field":"text"}}}
]}
],
"resolve":{"scale":{"x":"independent","y":"independent"},"axis":{"x":"independent","y":"independent"}},
"config":{"view":{"stroke":null},"axis":{"grid":false,"ticks":false,"labelFont":"Liberation Sans","labelFontWeight":"bold","titleFont":"Liberation Serif","titleFontWeight":"normal","titleColor":"#000"}}
}
